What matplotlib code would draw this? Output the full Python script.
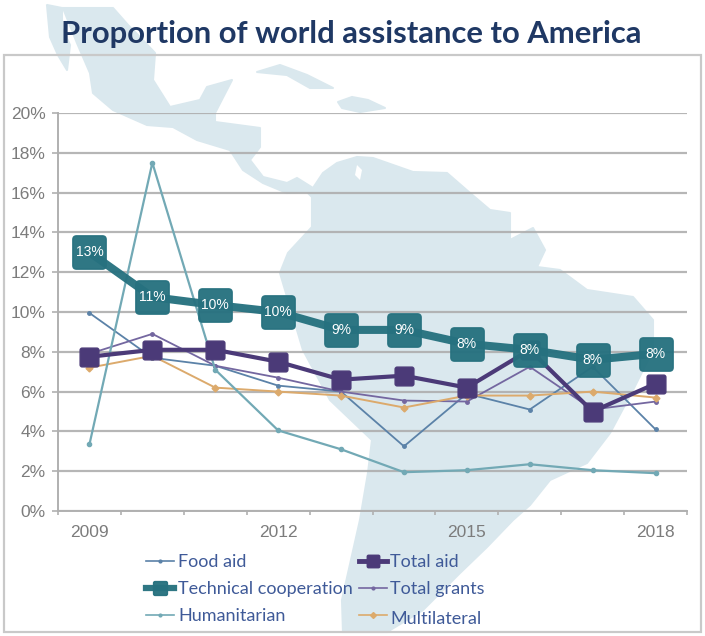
import matplotlib
matplotlib.use('Agg')
import matplotlib.pyplot as plt
from matplotlib.patches import Polygon, Rectangle
from matplotlib.path import Path

years = ['2009', '2010', '2011', '2012', '2013', '2014', '2015', '2016', '2017', '2018']
shown_years = ['2009', '2012', '2015', '2018']

food_aid = [9.95, 7.7, 7.3, 6.3, 6.0, 3.25, 5.9, 5.1, 7.25, 4.1]
technical = [13.0, 10.75, 10.35, 10.0, 9.1, 9.1, 8.4, 8.1, 7.6, 7.9]
humanitarian = [3.35, 17.5, 7.1, 4.05, 3.1, 1.95, 2.05, 2.35, 2.05, 1.9]
total_aid = [7.75, 8.1, 8.1, 7.5, 6.6, 6.8, 6.2, 8.1, 5.0, 6.4]
total_grants = [7.9, 8.9, 7.3, 6.7, 6.0, 5.55, 5.5, 7.25, 5.1, 5.5]
multilateral = [7.2, 7.8, 6.2, 6.0, 5.8, 5.2, 5.8, 5.8, 6.0, 5.7]

# outlines of the background map, in pixels from the top left corner
mainland = [(63, 8), (113, 8), (128, 25), (140, 37), (155, 53), (153, 80), (170, 107), (200, 100),
            (207, 87), (232, 80), (215, 113), (215, 122), (260, 128), (260, 147), (250, 160),
            (263, 177), (287, 183), (297, 178), (313, 188), (323, 173), (337, 163), (357, 157),
            (373, 158), (413, 172), (447, 173), (470, 193), (490, 210), (510, 213), (510, 240),
            (533, 228), (545, 250), (537, 267), (560, 270), (587, 290), (633, 297), (653, 320),
            (653, 350), (633, 390), (610, 433), (587, 463), (550, 480), (530, 505), (513, 520),
            (487, 547), (460, 573), (423, 610), (387, 632), (343, 632), (342, 600), (360, 520),
            (368, 473), (372, 440), (330, 400), (303, 350), (280, 273), (288, 253), (312, 227),
            (312, 197), (307, 192), (287, 193), (263, 183), (243, 170), (230, 150), (197, 140),
            (173, 127), (147, 125), (113, 110), (93, 93), (90, 73), (77, 43)]
baja = [(47, 5), (62, 8), (62, 28), (70, 45), (67, 70), (58, 55), (50, 37)]
cuba = [(257, 72), (280, 65), (307, 75), (333, 88), (310, 88), (287, 75)]
hispaniola = [(338, 102), (352, 97), (368, 100), (385, 108), (360, 112), (342, 108)]
lake = [(357, 165), (362, 170), (360, 180), (355, 175)]

map_color = '#dae8ee'

# rounded square used as the marker of the two main series
k = 0.22
rounded = Path(
    [(-1 + k, -1), (1 - k, -1), (1, -1), (1, -1 + k), (1, 1 - k), (1, 1), (1 - k, 1),
     (-1 + k, 1), (-1, 1), (-1, 1 - k), (-1, -1 + k), (-1, -1), (-1 + k, -1), (-1 + k, -1)],
    [Path.MOVETO, Path.LINETO, Path.CURVE3, Path.CURVE3, Path.LINETO, Path.CURVE3, Path.CURVE3,
     Path.LINETO, Path.CURVE3, Path.CURVE3, Path.LINETO, Path.CURVE3, Path.CURVE3, Path.CLOSEPOLY])

fig = plt.figure(figsize=(7.05, 6.36), dpi=100, facecolor='white')

# background layer in pixel coordinates
bg = fig.add_axes([0, 0, 1, 1])
bg.set_xlim(0, 705)
bg.set_ylim(636, 0)
bg.axis('off')
for outline in [mainland, baja, cuba, hispaniola]:
    bg.add_patch(Polygon(outline, closed=True, fc=map_color, ec=map_color, lw=1.5, joinstyle='round'))
bg.add_patch(Polygon(lake, closed=True, fc='white', ec='none'))
bg.add_patch(Rectangle((4, 55), 697, 577, fc='none', ec='#c9c9c9', lw=1.6))

bg.text(351, 34, 'Proportion of world assistance to America', ha='center', va='center',
        family='Lato', weight='bold', fontsize=22.3, color='#1f3864')

ax = fig.add_axes([58 / 705, 1 - 511 / 636, (687 - 58) / 705, (511 - 113) / 636])
ax.patch.set_alpha(0)
x = list(range(len(years)))

ax.plot(x, food_aid, color='#5b82a8', lw=1.3, marker='o', ms=2.5, zorder=3, label='Food aid')
ax.plot(x, technical, color='#26717f', lw=5.8, marker=rounded, ms=24, mec='#26717f', zorder=6,
        alpha=0.96, label='Technical cooperation')
ax.plot(x, humanitarian, color='#72a9b5', lw=1.6, marker='o', ms=3, zorder=4, label='Humanitarian')
ax.plot(x, total_aid, color='#4b3a78', lw=3, marker=rounded, ms=13.5, mec='#4b3a78', zorder=5,
        label='Total aid')
ax.plot(x, total_grants, color='#7467a0', lw=1.3, marker='o', ms=2.5, zorder=3, label='Total grants')
ax.plot(x, multilateral, color='#dcaa6c', lw=1.4, marker='D', ms=3.5, zorder=3, label='Multilateral')

for i, v in zip(x, technical):
    ax.text(i, v, f'{v:.0f}%', color='white', ha='center', va='center', fontsize=10,
            family='Liberation Sans', zorder=7)

ax.set_xlim(-0.5, 9.5)
ax.set_ylim(0, 20)
ax.set_yticks(range(0, 21, 2))
ax.set_yticklabels([f'{v}%' for v in range(0, 21, 2)], family='Liberation Sans', fontsize=12.5,
                   color='#7c7c7c')
ax.set_xticks([i - 0.5 for i in range(11)], minor=False)
ax.set_xticklabels([])
ax.set_xticks([years.index(y) for y in shown_years], minor=True)
ax.set_xticklabels(shown_years, minor=True, family='Liberation Sans', fontsize=12.5, color='#7c7c7c')
ax.tick_params(axis='x', which='major', length=3, color='#b0b0b0', width=1.2)
ax.tick_params(axis='x', which='minor', length=0, pad=10)
ax.tick_params(axis='y', length=4, color='#b0b0b0', width=1.2, pad=5)
ax.grid(axis='y', color='#aeaeae', lw=1.6, alpha=0.9)
ax.set_axisbelow(True)
for side in ['top', 'right']:
    ax.spines[side].set_visible(False)
for side in ['left', 'bottom']:
    ax.spines[side].set_color('#b0b0b0')
    ax.spines[side].set_linewidth(1.4)

handles, labels = ax.get_legend_handles_labels()
leg = ax.legend(handles, labels, ncols=2, frameon=False, loc='upper left',
                bbox_to_anchor=(0.126, -0.085), prop={'family': 'Lato', 'size': 13},
                labelcolor='#3f5a98', columnspacing=0.33, handlelength=1.55, handletextpad=0.2,
                labelspacing=0.62, borderpad=0)

# smaller markers and lines in the legend keys
key_sizes = [2, 10, 2, 9, 2, 3]
key_widths = [1.2, 4.5, 1.2, 3.5, 1.2, 1.2]
for h, size, width in zip(leg.legend_handles, key_sizes, key_widths):
    h.set_markersize(size)
    h.set_linewidth(width)
leg.get_texts()[5].set_y(-3)

fig.savefig('out.png', dpi=100)
